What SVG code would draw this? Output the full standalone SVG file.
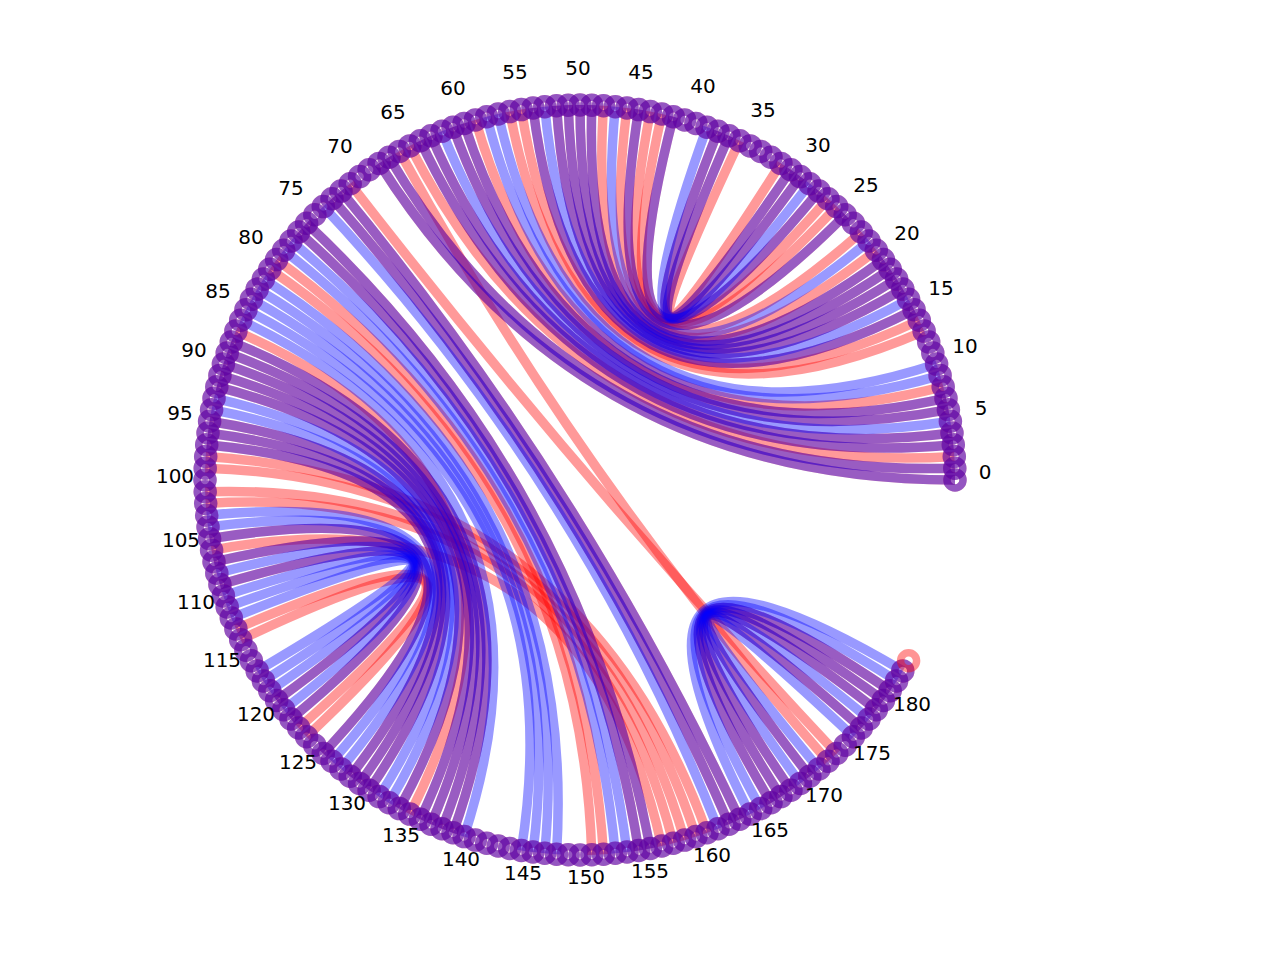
<svg xmlns="http://www.w3.org/2000/svg" xmlns:xlink="http://www.w3.org/1999/xlink" width="1280" height="960" viewBox="0 0 1280 960">
<style>
.cr{stroke:#ff0000;stroke-opacity:.4;fill:none;stroke-width:9.5}
.cb{stroke:#0000ff;stroke-opacity:.4;fill:none;stroke-width:9.5}
.r{stroke:#ff0000;stroke-opacity:.42;fill:none;stroke-width:7.5}
.b{stroke:#0000ff;stroke-opacity:.42;fill:none;stroke-width:7.5}
text{font-family:"DejaVu Sans","Liberation Sans",sans-serif;font-size:20px;fill:#000;text-anchor:middle}
</style>
<defs>
<circle id="ring" r="8"/>
<g id="pp">
<path d="M955 480Q580 480 379.1 163.4"/>
<path d="M954.8 468.2Q580 480 389 157.2"/>
<path d="M953.3 444.7Q580 480 420.3 140.7"/>
<path d="M952 433Q580 480 431 135.8"/>
<path d="M948.4 409.7Q580 480 453 127.2"/>
<path d="M946 398.2Q580 480 464.1 123.4"/>
<path d="M914.1 309.8Q580 480 533 108"/>
<path d="M902.8 289.1Q580 480 556.5 105.7"/>
<path d="M896.6 279.1Q580 480 568.2 105.2"/>
<path d="M890.2 269.2Q580 480 580 105"/>
<path d="M883.4 259.6Q580 480 591.8 105.2"/>
<path d="M845.2 214.8Q580 480 638.7 109.6"/>
<path d="M819 191.1Q580 480 673.3 116.8"/>
<path d="M800.4 176.6Q580 480 718 131.3"/>
<path d="M790.9 169.8Q580 480 729 135.8"/>
<path d="M341 191.1Q580 480 739.7 819.3"/>
<path d="M332 198.7Q580 480 729 824.2"/>
<path d="M306.6 223.3Q580 480 650.3 848.4"/>
<path d="M298.7 232Q580 480 638.7 850.4"/>
<path d="M219.9 584.6Q580 480 276.6 700.4"/>
<path d="M214 561.8Q580 480 291 719"/>
<path d="M209.6 538.7Q580 480 323.3 753.4"/>
<path d="M206.7 444.7Q580 480 350.2 776.3"/>
<path d="M208 433Q580 480 359.6 783.4"/>
<path d="M209.6 421.3Q580 480 369.1 790.2"/>
<path d="M216.8 386.7Q580 480 399.3 808.6"/>
<path d="M219.9 375.4Q580 480 420.3 819.3"/>
<path d="M223.4 364.1Q580 480 431 824.2"/>
<path d="M227.2 353Q580 480 442 828.7"/>
<path d="M231.3 342Q580 480 453 832.8"/>
<path d="M890.2 690.8Q580 480 771 802.8"/>
<path d="M883.4 700.4Q580 480 780.9 796.6"/>
<path d="M876.3 709.8Q580 480 790.9 790.2"/>
<path d="M861.3 728Q580 480 809.8 776.3"/>
</g>
</defs>
<g id="connectors">
<g class="cr">
<use href="#pp"/>
<path d="M954.3 456.5Q580 480 409.8 145.9"/>
<path d="M943.2 386.7Q580 480 475.4 119.9"/>
<path d="M924.1 331.1Q580 480 509.7 111.6"/>
<path d="M919.3 320.3Q580 480 521.3 109.6"/>
<path d="M876.3 250.2Q580 480 603.5 105.7"/>
<path d="M861.3 232Q580 480 627 108"/>
<path d="M836.7 206.6Q580 480 650.3 111.6"/>
<path d="M828 198.7Q580 480 661.8 114"/>
<path d="M780.9 163.4Q580 480 739.7 140.7"/>
<path d="M399.3 151.4Q580 480 828 761.3"/>
<path d="M350.2 183.7Q580 480 836.7 753.4"/>
<path d="M276.6 259.6Q580 480 603.5 854.3"/>
<path d="M269.8 269.2Q580 480 591.8 854.8"/>
<path d="M235.9 331.1Q580 480 409.8 814.1"/>
<path d="M205.7 456.5Q580 480 707 832.8"/>
<path d="M205.2 468.2Q580 480 695.9 836.6"/>
<path d="M205.2 491.8Q580 480 684.6 840.1"/>
<path d="M205.7 503.5Q580 480 673.3 843.2"/>
<path d="M211.6 550.3Q580 480 661.8 846"/>
<path d="M235.9 628.9Q580 480 306.6 736.7"/>
<path d="M240.7 639.7Q580 480 298.7 728"/>
</g>
<g class="cb">
<use href="#pp"/>
<path d="M950.4 421.3Q580 480 442 131.3"/>
<path d="M940.1 375.4Q580 480 486.7 116.8"/>
<path d="M936.6 364.1Q580 480 498.2 114"/>
<path d="M908.6 299.3Q580 480 544.7 106.7"/>
<path d="M869 241Q580 480 615.3 106.7"/>
<path d="M809.8 183.7Q580 480 707 127.2"/>
<path d="M323.3 206.6Q580 480 718 828.7"/>
<path d="M291 241Q580 480 627 852"/>
<path d="M283.7 250.2Q580 480 615.3 853.3"/>
<path d="M263.4 279.1Q580 480 556.5 854.3"/>
<path d="M257.2 289.1Q580 480 544.7 853.3"/>
<path d="M251.4 299.3Q580 480 533 852"/>
<path d="M245.9 309.8Q580 480 521.3 850.4"/>
<path d="M240.7 320.3Q580 480 464.1 836.6"/>
<path d="M214 398.2Q580 480 389 802.8"/>
<path d="M211.6 409.7Q580 480 379.1 796.6"/>
<path d="M206.7 515.3Q580 480 341 768.9"/>
<path d="M208 527Q580 480 332 761.3"/>
<path d="M216.8 573.3Q580 480 283.7 709.8"/>
<path d="M223.4 595.9Q580 480 269.8 690.8"/>
<path d="M227.2 607Q580 480 263.4 680.9"/>
<path d="M231.3 618Q580 480 257.2 670.9"/>
<path d="M902.8 670.9Q580 480 750.2 814.1"/>
<path d="M896.6 680.9Q580 480 760.7 808.6"/>
<path d="M869 719Q580 480 800.4 783.4"/>
<path d="M853.4 736.7Q580 480 819 768.9"/>
</g>
</g>
<g id="nodes">
<g id="n0" transform="translate(955 480)"><use href="#ring" class="r"/><use href="#ring" class="b"/></g>
<g id="n1" transform="translate(954.8 468.2)"><use href="#ring" class="r"/><use href="#ring" class="b"/></g>
<g id="n2" transform="translate(954.3 456.5)"><use href="#ring" class="r"/><use href="#ring" class="b"/></g>
<g id="n3" transform="translate(953.3 444.7)"><use href="#ring" class="r"/><use href="#ring" class="b"/></g>
<g id="n4" transform="translate(952 433)"><use href="#ring" class="r"/><use href="#ring" class="b"/></g>
<g id="n5" transform="translate(950.4 421.3)"><use href="#ring" class="r"/><use href="#ring" class="b"/></g>
<g id="n6" transform="translate(948.4 409.7)"><use href="#ring" class="r"/><use href="#ring" class="b"/></g>
<g id="n7" transform="translate(946 398.2)"><use href="#ring" class="r"/><use href="#ring" class="b"/></g>
<g id="n8" transform="translate(943.2 386.7)"><use href="#ring" class="r"/><use href="#ring" class="b"/></g>
<g id="n9" transform="translate(940.1 375.4)"><use href="#ring" class="r"/><use href="#ring" class="b"/></g>
<g id="n10" transform="translate(936.6 364.1)"><use href="#ring" class="r"/><use href="#ring" class="b"/></g>
<g id="n11" transform="translate(932.8 353)"><use href="#ring" class="r"/><use href="#ring" class="b"/></g>
<g id="n12" transform="translate(928.7 342)"><use href="#ring" class="r"/><use href="#ring" class="b"/></g>
<g id="n13" transform="translate(924.1 331.1)"><use href="#ring" class="r"/><use href="#ring" class="b"/></g>
<g id="n14" transform="translate(919.3 320.3)"><use href="#ring" class="r"/><use href="#ring" class="b"/></g>
<g id="n15" transform="translate(914.1 309.8)"><use href="#ring" class="r"/><use href="#ring" class="b"/></g>
<g id="n16" transform="translate(908.6 299.3)"><use href="#ring" class="r"/><use href="#ring" class="b"/></g>
<g id="n17" transform="translate(902.8 289.1)"><use href="#ring" class="r"/><use href="#ring" class="b"/></g>
<g id="n18" transform="translate(896.6 279.1)"><use href="#ring" class="r"/><use href="#ring" class="b"/></g>
<g id="n19" transform="translate(890.2 269.2)"><use href="#ring" class="r"/><use href="#ring" class="b"/></g>
<g id="n20" transform="translate(883.4 259.6)"><use href="#ring" class="r"/><use href="#ring" class="b"/></g>
<g id="n21" transform="translate(876.3 250.2)"><use href="#ring" class="r"/><use href="#ring" class="b"/></g>
<g id="n22" transform="translate(869 241)"><use href="#ring" class="r"/><use href="#ring" class="b"/></g>
<g id="n23" transform="translate(861.3 232)"><use href="#ring" class="r"/><use href="#ring" class="b"/></g>
<g id="n24" transform="translate(853.4 223.3)"><use href="#ring" class="r"/><use href="#ring" class="b"/></g>
<g id="n25" transform="translate(845.2 214.8)"><use href="#ring" class="r"/><use href="#ring" class="b"/></g>
<g id="n26" transform="translate(836.7 206.6)"><use href="#ring" class="r"/><use href="#ring" class="b"/></g>
<g id="n27" transform="translate(828 198.7)"><use href="#ring" class="r"/><use href="#ring" class="b"/></g>
<g id="n28" transform="translate(819 191.1)"><use href="#ring" class="r"/><use href="#ring" class="b"/></g>
<g id="n29" transform="translate(809.8 183.7)"><use href="#ring" class="r"/><use href="#ring" class="b"/></g>
<g id="n30" transform="translate(800.4 176.6)"><use href="#ring" class="r"/><use href="#ring" class="b"/></g>
<g id="n31" transform="translate(790.9 169.8)"><use href="#ring" class="r"/><use href="#ring" class="b"/></g>
<g id="n32" transform="translate(780.9 163.4)"><use href="#ring" class="r"/><use href="#ring" class="b"/></g>
<g id="n33" transform="translate(771 157.2)"><use href="#ring" class="r"/><use href="#ring" class="b"/></g>
<g id="n34" transform="translate(760.7 151.4)"><use href="#ring" class="r"/><use href="#ring" class="b"/></g>
<g id="n35" transform="translate(750.2 145.9)"><use href="#ring" class="r"/><use href="#ring" class="b"/></g>
<g id="n36" transform="translate(739.7 140.7)"><use href="#ring" class="r"/><use href="#ring" class="b"/></g>
<g id="n37" transform="translate(729 135.8)"><use href="#ring" class="r"/><use href="#ring" class="b"/></g>
<g id="n38" transform="translate(718 131.3)"><use href="#ring" class="r"/><use href="#ring" class="b"/></g>
<g id="n39" transform="translate(707 127.2)"><use href="#ring" class="r"/><use href="#ring" class="b"/></g>
<g id="n40" transform="translate(695.9 123.4)"><use href="#ring" class="r"/><use href="#ring" class="b"/></g>
<g id="n41" transform="translate(684.6 119.9)"><use href="#ring" class="r"/><use href="#ring" class="b"/></g>
<g id="n42" transform="translate(673.3 116.8)"><use href="#ring" class="r"/><use href="#ring" class="b"/></g>
<g id="n43" transform="translate(661.8 114)"><use href="#ring" class="r"/><use href="#ring" class="b"/></g>
<g id="n44" transform="translate(650.3 111.6)"><use href="#ring" class="r"/><use href="#ring" class="b"/></g>
<g id="n45" transform="translate(638.7 109.6)"><use href="#ring" class="r"/><use href="#ring" class="b"/></g>
<g id="n46" transform="translate(627 108)"><use href="#ring" class="r"/><use href="#ring" class="b"/></g>
<g id="n47" transform="translate(615.3 106.7)"><use href="#ring" class="r"/><use href="#ring" class="b"/></g>
<g id="n48" transform="translate(603.5 105.7)"><use href="#ring" class="r"/><use href="#ring" class="b"/></g>
<g id="n49" transform="translate(591.8 105.2)"><use href="#ring" class="r"/><use href="#ring" class="b"/></g>
<g id="n50" transform="translate(580 105)"><use href="#ring" class="r"/><use href="#ring" class="b"/></g>
<g id="n51" transform="translate(568.2 105.2)"><use href="#ring" class="r"/><use href="#ring" class="b"/></g>
<g id="n52" transform="translate(556.5 105.7)"><use href="#ring" class="r"/><use href="#ring" class="b"/></g>
<g id="n53" transform="translate(544.7 106.7)"><use href="#ring" class="r"/><use href="#ring" class="b"/></g>
<g id="n54" transform="translate(533 108)"><use href="#ring" class="r"/><use href="#ring" class="b"/></g>
<g id="n55" transform="translate(521.3 109.6)"><use href="#ring" class="r"/><use href="#ring" class="b"/></g>
<g id="n56" transform="translate(509.7 111.6)"><use href="#ring" class="r"/><use href="#ring" class="b"/></g>
<g id="n57" transform="translate(498.2 114)"><use href="#ring" class="r"/><use href="#ring" class="b"/></g>
<g id="n58" transform="translate(486.7 116.8)"><use href="#ring" class="r"/><use href="#ring" class="b"/></g>
<g id="n59" transform="translate(475.4 119.9)"><use href="#ring" class="r"/><use href="#ring" class="b"/></g>
<g id="n60" transform="translate(464.1 123.4)"><use href="#ring" class="r"/><use href="#ring" class="b"/></g>
<g id="n61" transform="translate(453 127.2)"><use href="#ring" class="r"/><use href="#ring" class="b"/></g>
<g id="n62" transform="translate(442 131.3)"><use href="#ring" class="r"/><use href="#ring" class="b"/></g>
<g id="n63" transform="translate(431 135.8)"><use href="#ring" class="r"/><use href="#ring" class="b"/></g>
<g id="n64" transform="translate(420.3 140.7)"><use href="#ring" class="r"/><use href="#ring" class="b"/></g>
<g id="n65" transform="translate(409.8 145.9)"><use href="#ring" class="r"/><use href="#ring" class="b"/></g>
<g id="n66" transform="translate(399.3 151.4)"><use href="#ring" class="r"/><use href="#ring" class="b"/></g>
<g id="n67" transform="translate(389 157.2)"><use href="#ring" class="r"/><use href="#ring" class="b"/></g>
<g id="n68" transform="translate(379.1 163.4)"><use href="#ring" class="r"/><use href="#ring" class="b"/></g>
<g id="n69" transform="translate(369.1 169.8)"><use href="#ring" class="r"/><use href="#ring" class="b"/></g>
<g id="n70" transform="translate(359.6 176.6)"><use href="#ring" class="r"/><use href="#ring" class="b"/></g>
<g id="n71" transform="translate(350.2 183.7)"><use href="#ring" class="r"/><use href="#ring" class="b"/></g>
<g id="n72" transform="translate(341 191.1)"><use href="#ring" class="r"/><use href="#ring" class="b"/></g>
<g id="n73" transform="translate(332 198.7)"><use href="#ring" class="r"/><use href="#ring" class="b"/></g>
<g id="n74" transform="translate(323.3 206.6)"><use href="#ring" class="r"/><use href="#ring" class="b"/></g>
<g id="n75" transform="translate(314.8 214.8)"><use href="#ring" class="r"/><use href="#ring" class="b"/></g>
<g id="n76" transform="translate(306.6 223.3)"><use href="#ring" class="r"/><use href="#ring" class="b"/></g>
<g id="n77" transform="translate(298.7 232)"><use href="#ring" class="r"/><use href="#ring" class="b"/></g>
<g id="n78" transform="translate(291 241)"><use href="#ring" class="r"/><use href="#ring" class="b"/></g>
<g id="n79" transform="translate(283.7 250.2)"><use href="#ring" class="r"/><use href="#ring" class="b"/></g>
<g id="n80" transform="translate(276.6 259.6)"><use href="#ring" class="r"/><use href="#ring" class="b"/></g>
<g id="n81" transform="translate(269.8 269.2)"><use href="#ring" class="r"/><use href="#ring" class="b"/></g>
<g id="n82" transform="translate(263.4 279.1)"><use href="#ring" class="r"/><use href="#ring" class="b"/></g>
<g id="n83" transform="translate(257.2 289.1)"><use href="#ring" class="r"/><use href="#ring" class="b"/></g>
<g id="n84" transform="translate(251.4 299.3)"><use href="#ring" class="r"/><use href="#ring" class="b"/></g>
<g id="n85" transform="translate(245.9 309.8)"><use href="#ring" class="r"/><use href="#ring" class="b"/></g>
<g id="n86" transform="translate(240.7 320.3)"><use href="#ring" class="r"/><use href="#ring" class="b"/></g>
<g id="n87" transform="translate(235.9 331.1)"><use href="#ring" class="r"/><use href="#ring" class="b"/></g>
<g id="n88" transform="translate(231.3 342)"><use href="#ring" class="r"/><use href="#ring" class="b"/></g>
<g id="n89" transform="translate(227.2 353)"><use href="#ring" class="r"/><use href="#ring" class="b"/></g>
<g id="n90" transform="translate(223.4 364.1)"><use href="#ring" class="r"/><use href="#ring" class="b"/></g>
<g id="n91" transform="translate(219.9 375.4)"><use href="#ring" class="r"/><use href="#ring" class="b"/></g>
<g id="n92" transform="translate(216.8 386.7)"><use href="#ring" class="r"/><use href="#ring" class="b"/></g>
<g id="n93" transform="translate(214 398.2)"><use href="#ring" class="r"/><use href="#ring" class="b"/></g>
<g id="n94" transform="translate(211.6 409.7)"><use href="#ring" class="r"/><use href="#ring" class="b"/></g>
<g id="n95" transform="translate(209.6 421.3)"><use href="#ring" class="r"/><use href="#ring" class="b"/></g>
<g id="n96" transform="translate(208 433)"><use href="#ring" class="r"/><use href="#ring" class="b"/></g>
<g id="n97" transform="translate(206.7 444.7)"><use href="#ring" class="r"/><use href="#ring" class="b"/></g>
<g id="n98" transform="translate(205.7 456.5)"><use href="#ring" class="r"/><use href="#ring" class="b"/></g>
<g id="n99" transform="translate(205.2 468.2)"><use href="#ring" class="r"/><use href="#ring" class="b"/></g>
<g id="n100" transform="translate(205 480)"><use href="#ring" class="r"/><use href="#ring" class="b"/></g>
<g id="n101" transform="translate(205.2 491.8)"><use href="#ring" class="r"/><use href="#ring" class="b"/></g>
<g id="n102" transform="translate(205.7 503.5)"><use href="#ring" class="r"/><use href="#ring" class="b"/></g>
<g id="n103" transform="translate(206.7 515.3)"><use href="#ring" class="r"/><use href="#ring" class="b"/></g>
<g id="n104" transform="translate(208 527)"><use href="#ring" class="r"/><use href="#ring" class="b"/></g>
<g id="n105" transform="translate(209.6 538.7)"><use href="#ring" class="r"/><use href="#ring" class="b"/></g>
<g id="n106" transform="translate(211.6 550.3)"><use href="#ring" class="r"/><use href="#ring" class="b"/></g>
<g id="n107" transform="translate(214 561.8)"><use href="#ring" class="r"/><use href="#ring" class="b"/></g>
<g id="n108" transform="translate(216.8 573.3)"><use href="#ring" class="r"/><use href="#ring" class="b"/></g>
<g id="n109" transform="translate(219.9 584.6)"><use href="#ring" class="r"/><use href="#ring" class="b"/></g>
<g id="n110" transform="translate(223.4 595.9)"><use href="#ring" class="r"/><use href="#ring" class="b"/></g>
<g id="n111" transform="translate(227.2 607)"><use href="#ring" class="r"/><use href="#ring" class="b"/></g>
<g id="n112" transform="translate(231.3 618)"><use href="#ring" class="r"/><use href="#ring" class="b"/></g>
<g id="n113" transform="translate(235.9 628.9)"><use href="#ring" class="r"/><use href="#ring" class="b"/></g>
<g id="n114" transform="translate(240.7 639.7)"><use href="#ring" class="r"/><use href="#ring" class="b"/></g>
<g id="n115" transform="translate(245.9 650.2)"><use href="#ring" class="r"/><use href="#ring" class="b"/></g>
<g id="n116" transform="translate(251.4 660.7)"><use href="#ring" class="r"/><use href="#ring" class="b"/></g>
<g id="n117" transform="translate(257.2 670.9)"><use href="#ring" class="r"/><use href="#ring" class="b"/></g>
<g id="n118" transform="translate(263.4 680.9)"><use href="#ring" class="r"/><use href="#ring" class="b"/></g>
<g id="n119" transform="translate(269.8 690.8)"><use href="#ring" class="r"/><use href="#ring" class="b"/></g>
<g id="n120" transform="translate(276.6 700.4)"><use href="#ring" class="r"/><use href="#ring" class="b"/></g>
<g id="n121" transform="translate(283.7 709.8)"><use href="#ring" class="r"/><use href="#ring" class="b"/></g>
<g id="n122" transform="translate(291 719)"><use href="#ring" class="r"/><use href="#ring" class="b"/></g>
<g id="n123" transform="translate(298.7 728)"><use href="#ring" class="r"/><use href="#ring" class="b"/></g>
<g id="n124" transform="translate(306.6 736.7)"><use href="#ring" class="r"/><use href="#ring" class="b"/></g>
<g id="n125" transform="translate(314.8 745.2)"><use href="#ring" class="r"/><use href="#ring" class="b"/></g>
<g id="n126" transform="translate(323.3 753.4)"><use href="#ring" class="r"/><use href="#ring" class="b"/></g>
<g id="n127" transform="translate(332 761.3)"><use href="#ring" class="r"/><use href="#ring" class="b"/></g>
<g id="n128" transform="translate(341 768.9)"><use href="#ring" class="r"/><use href="#ring" class="b"/></g>
<g id="n129" transform="translate(350.2 776.3)"><use href="#ring" class="r"/><use href="#ring" class="b"/></g>
<g id="n130" transform="translate(359.6 783.4)"><use href="#ring" class="r"/><use href="#ring" class="b"/></g>
<g id="n131" transform="translate(369.1 790.2)"><use href="#ring" class="r"/><use href="#ring" class="b"/></g>
<g id="n132" transform="translate(379.1 796.6)"><use href="#ring" class="r"/><use href="#ring" class="b"/></g>
<g id="n133" transform="translate(389 802.8)"><use href="#ring" class="r"/><use href="#ring" class="b"/></g>
<g id="n134" transform="translate(399.3 808.6)"><use href="#ring" class="r"/><use href="#ring" class="b"/></g>
<g id="n135" transform="translate(409.8 814.1)"><use href="#ring" class="r"/><use href="#ring" class="b"/></g>
<g id="n136" transform="translate(420.3 819.3)"><use href="#ring" class="r"/><use href="#ring" class="b"/></g>
<g id="n137" transform="translate(431 824.2)"><use href="#ring" class="r"/><use href="#ring" class="b"/></g>
<g id="n138" transform="translate(442 828.7)"><use href="#ring" class="r"/><use href="#ring" class="b"/></g>
<g id="n139" transform="translate(453 832.8)"><use href="#ring" class="r"/><use href="#ring" class="b"/></g>
<g id="n140" transform="translate(464.1 836.6)"><use href="#ring" class="r"/><use href="#ring" class="b"/></g>
<g id="n141" transform="translate(475.4 840.1)"><use href="#ring" class="r"/><use href="#ring" class="b"/></g>
<g id="n142" transform="translate(486.7 843.2)"><use href="#ring" class="r"/><use href="#ring" class="b"/></g>
<g id="n143" transform="translate(498.2 846)"><use href="#ring" class="r"/><use href="#ring" class="b"/></g>
<g id="n144" transform="translate(509.7 848.4)"><use href="#ring" class="r"/><use href="#ring" class="b"/></g>
<g id="n145" transform="translate(521.3 850.4)"><use href="#ring" class="r"/><use href="#ring" class="b"/></g>
<g id="n146" transform="translate(533 852)"><use href="#ring" class="r"/><use href="#ring" class="b"/></g>
<g id="n147" transform="translate(544.7 853.3)"><use href="#ring" class="r"/><use href="#ring" class="b"/></g>
<g id="n148" transform="translate(556.5 854.3)"><use href="#ring" class="r"/><use href="#ring" class="b"/></g>
<g id="n149" transform="translate(568.2 854.8)"><use href="#ring" class="r"/><use href="#ring" class="b"/></g>
<g id="n150" transform="translate(580 855)"><use href="#ring" class="r"/><use href="#ring" class="b"/></g>
<g id="n151" transform="translate(591.8 854.8)"><use href="#ring" class="r"/><use href="#ring" class="b"/></g>
<g id="n152" transform="translate(603.5 854.3)"><use href="#ring" class="r"/><use href="#ring" class="b"/></g>
<g id="n153" transform="translate(615.3 853.3)"><use href="#ring" class="r"/><use href="#ring" class="b"/></g>
<g id="n154" transform="translate(627 852)"><use href="#ring" class="r"/><use href="#ring" class="b"/></g>
<g id="n155" transform="translate(638.7 850.4)"><use href="#ring" class="r"/><use href="#ring" class="b"/></g>
<g id="n156" transform="translate(650.3 848.4)"><use href="#ring" class="r"/><use href="#ring" class="b"/></g>
<g id="n157" transform="translate(661.8 846)"><use href="#ring" class="r"/><use href="#ring" class="b"/></g>
<g id="n158" transform="translate(673.3 843.2)"><use href="#ring" class="r"/><use href="#ring" class="b"/></g>
<g id="n159" transform="translate(684.6 840.1)"><use href="#ring" class="r"/><use href="#ring" class="b"/></g>
<g id="n160" transform="translate(695.9 836.6)"><use href="#ring" class="r"/><use href="#ring" class="b"/></g>
<g id="n161" transform="translate(707 832.8)"><use href="#ring" class="r"/><use href="#ring" class="b"/></g>
<g id="n162" transform="translate(718 828.7)"><use href="#ring" class="r"/><use href="#ring" class="b"/></g>
<g id="n163" transform="translate(729 824.2)"><use href="#ring" class="r"/><use href="#ring" class="b"/></g>
<g id="n164" transform="translate(739.7 819.3)"><use href="#ring" class="r"/><use href="#ring" class="b"/></g>
<g id="n165" transform="translate(750.2 814.1)"><use href="#ring" class="r"/><use href="#ring" class="b"/></g>
<g id="n166" transform="translate(760.7 808.6)"><use href="#ring" class="r"/><use href="#ring" class="b"/></g>
<g id="n167" transform="translate(771 802.8)"><use href="#ring" class="r"/><use href="#ring" class="b"/></g>
<g id="n168" transform="translate(780.9 796.6)"><use href="#ring" class="r"/><use href="#ring" class="b"/></g>
<g id="n169" transform="translate(790.9 790.2)"><use href="#ring" class="r"/><use href="#ring" class="b"/></g>
<g id="n170" transform="translate(800.4 783.4)"><use href="#ring" class="r"/><use href="#ring" class="b"/></g>
<g id="n171" transform="translate(809.8 776.3)"><use href="#ring" class="r"/><use href="#ring" class="b"/></g>
<g id="n172" transform="translate(819 768.9)"><use href="#ring" class="r"/><use href="#ring" class="b"/></g>
<g id="n173" transform="translate(828 761.3)"><use href="#ring" class="r"/><use href="#ring" class="b"/></g>
<g id="n174" transform="translate(836.7 753.4)"><use href="#ring" class="r"/><use href="#ring" class="b"/></g>
<g id="n175" transform="translate(845.2 745.2)"><use href="#ring" class="r"/><use href="#ring" class="b"/></g>
<g id="n176" transform="translate(853.4 736.7)"><use href="#ring" class="r"/><use href="#ring" class="b"/></g>
<g id="n177" transform="translate(861.3 728)"><use href="#ring" class="r"/><use href="#ring" class="b"/></g>
<g id="n178" transform="translate(869 719)"><use href="#ring" class="r"/><use href="#ring" class="b"/></g>
<g id="n179" transform="translate(876.3 709.8)"><use href="#ring" class="r"/><use href="#ring" class="b"/></g>
<g id="n180" transform="translate(883.4 700.4)"><use href="#ring" class="r"/><use href="#ring" class="b"/></g>
<g id="n181" transform="translate(890.2 690.8)"><use href="#ring" class="r"/><use href="#ring" class="b"/></g>
<g id="n182" transform="translate(896.6 680.9)"><use href="#ring" class="r"/><use href="#ring" class="b"/></g>
<g id="n183" transform="translate(902.8 670.9)"><use href="#ring" class="r"/><use href="#ring" class="b"/></g>
<g id="n184" transform="translate(908.6 660.7)"><use href="#ring" class="r"/></g>
</g>
<g id="labels">
<text x="985" y="479">0</text>
<text x="981" y="415">5</text>
<text x="965" y="353">10</text>
<text x="941" y="295">15</text>
<text x="907" y="240">20</text>
<text x="866" y="192">25</text>
<text x="818" y="152">30</text>
<text x="763" y="117">35</text>
<text x="703" y="93">40</text>
<text x="641" y="79">45</text>
<text x="578" y="75">50</text>
<text x="515" y="79">55</text>
<text x="453" y="95">60</text>
<text x="393" y="119">65</text>
<text x="340" y="153">70</text>
<text x="291" y="195">75</text>
<text x="251" y="244">80</text>
<text x="218" y="298">85</text>
<text x="194" y="357">90</text>
<text x="180" y="420">95</text>
<text x="175" y="483">100</text>
<text x="181" y="547">105</text>
<text x="196" y="609">110</text>
<text x="222" y="667">115</text>
<text x="256" y="721">120</text>
<text x="298" y="769">125</text>
<text x="347" y="810">130</text>
<text x="401" y="842">135</text>
<text x="461" y="866">140</text>
<text x="523" y="880">145</text>
<text x="586" y="884">150</text>
<text x="650" y="878">155</text>
<text x="712" y="862">160</text>
<text x="770" y="837">165</text>
<text x="824" y="802">170</text>
<text x="872" y="760">175</text>
<text x="912" y="711">180</text>
</g>
</svg>
